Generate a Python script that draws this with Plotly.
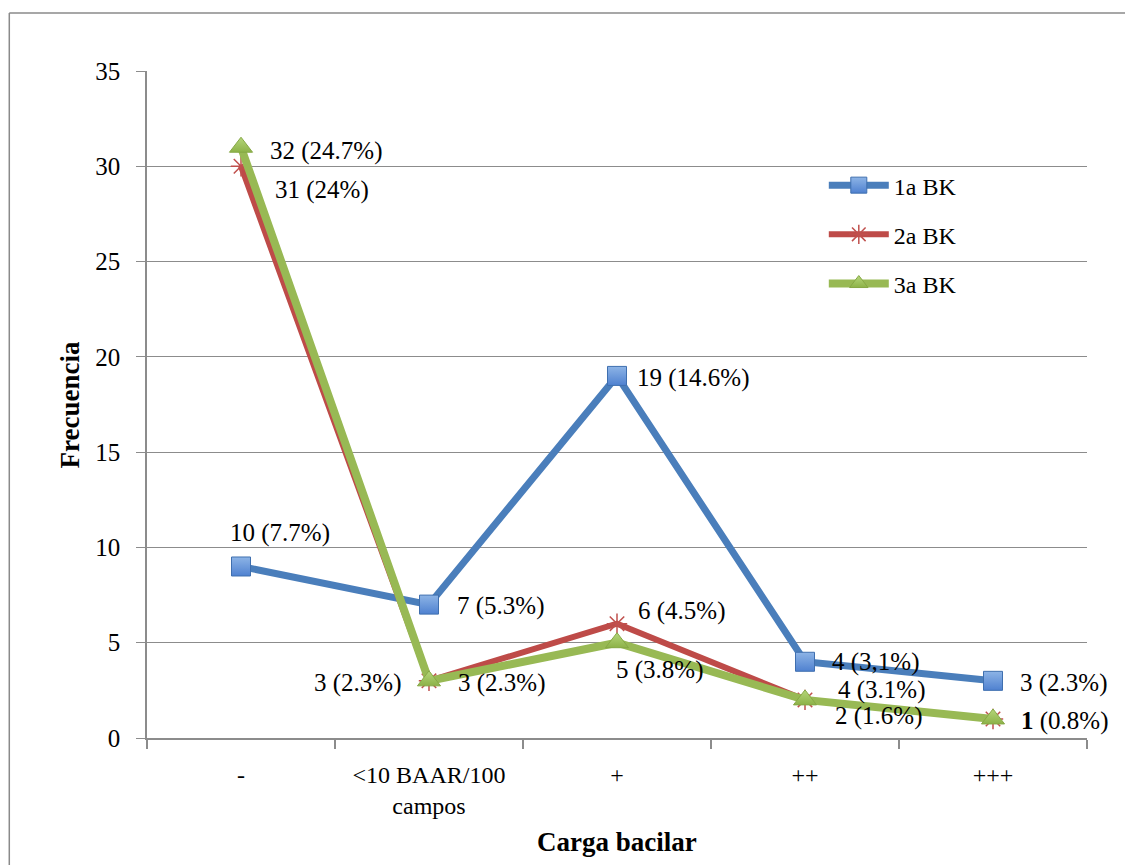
import plotly.graph_objects as go

categories = ["-", "<10 BAAR/100<br>campos", "+", "++", "+++"]
series_names = ["1a BK", "2a BK", "3a BK"]
bk1 = [9, 7, 19, 4, 3]
bk2 = [30, 3, 6, 2, 1]
bk3 = [31, 3, 5, 2, 1]
labels1 = ["10 (7.7%)", "7 (5.3%)", "19 (14.6%)", "4 (3,1%)", "3 (2.3%)"]
labels2 = ["31 (24%)", "3 (2.3%)", "6 (4.5%)", "4 (3.1%)", ""]
labels3 = ["32 (24.7%)", "3 (2.3%)", "5 (3.8%)", "2 (1.6%)", "<b>1</b> (0.8%)"]
y_ticks = [0, 5, 10, 15, 20, 25, 30, 35]

FONT = "Liberation Serif, Times New Roman, serif"
GRID = "#8c8c8c"

fig = go.Figure()

fig.add_trace(go.Scatter(
    x=categories, y=bk1, name=series_names[0], mode="lines+markers",
    legendgroup="a",
    line=dict(color="#4A7EBB", width=7),
    marker=dict(symbol="square", size=19, color="#8DB4E6",
                gradient=dict(type="vertical", color="#4F81D0"),
                line=dict(color="#3F6FAF", width=1)),
))
fig.add_trace(go.Scatter(
    x=categories, y=bk2, name=series_names[1], mode="lines+markers",
    legendgroup="b",
    line=dict(color="#BE4B48", width=6),
    marker=dict(symbol="asterisk-open", size=17, color="#C0504D",
                line=dict(color="#C0504D", width=1.5)),
))
fig.add_trace(go.Scatter(
    x=categories, y=bk3, name=series_names[2], mode="lines+markers",
    legendgroup="c",
    line=dict(color="#98B954", width=8),
    marker=dict(symbol="triangle-up", size=20, color="#B5D67A",
                gradient=dict(type="vertical", color="#8DB248"),
                line=dict(color="#86A845", width=1)),
))

# label placement styles: (xanchor, xshift, yshift)
style1 = [("center", 39, 33), ("left", 26, -1), ("left", 18, -2), ("left", 25, 0), ("left", 25, -2)]
style2 = [("left", 32, -24), ("right", -26, -2), ("left", 19, 13), ("left", 31, 10), ("left", 25, 0)]
style3 = [("left", 27, -4), ("left", 27, -2), ("center", 42, -27), ("left", 28, -16), ("left", 26, -2)]

annotations = []
for vals, labs, sty in ((bk1, labels1, style1), (bk2, labels2, style2), (bk3, labels3, style3)):
    for c, v, t, (xa, xs, ys) in zip(categories, vals, labs, sty):
        if not t:
            continue
        annotations.append(dict(
            x=c, y=v, xref="x", yref="y", text=t, showarrow=False,
            xanchor=xa, yanchor="middle", xshift=xs, yshift=ys,
            font=dict(family=FONT, size=25, color="#000000"),
        ))

annotations.append(dict(
    x=0.5, y=-0.156, xref="paper", yref="paper", text="<b>Carga bacilar</b>",
    showarrow=False, xanchor="center", yanchor="middle",
    font=dict(family=FONT, size=27, color="#000000"),
))
annotations.append(dict(
    x=-0.082, y=0.5, xref="paper", yref="paper", text="<b>Frecuencia</b>",
    showarrow=False, xanchor="center", yanchor="middle", textangle=-90,
    font=dict(family=FONT, size=27, color="#000000"),
))

shapes = [
    dict(type="line", xref="paper", yref="paper", x0=-0.1465, x1=-0.1465, y0=-0.3, y1=1.087,
         line=dict(color="#8a8a8a", width=1.5)),
    dict(type="line", xref="paper", yref="paper", x0=-0.1465, x1=1.1, y0=1.087, y1=1.087,
         line=dict(color="#8a8a8a", width=1.5)),
]

fig.update_layout(
    width=1125, height=857,
    margin=dict(l=139, r=46, t=63, b=127),
    paper_bgcolor="white", plot_bgcolor="white",
    font=dict(family=FONT, color="#000000"),
    annotations=annotations,
    shapes=shapes,
    showlegend=True,
    legend=dict(x=0.72, y=0.862, xanchor="left", yanchor="top",
                font=dict(family=FONT, size=24, color="#000000"),
                bgcolor="rgba(0,0,0,0)", tracegroupgap=15, itemwidth=60),
)

fig.update_xaxes(
    type="category", range=[-0.5, 4.5], showgrid=False,
    showline=True, linecolor=GRID, linewidth=1.5,
    ticks="outside", tickson="boundaries", ticklen=9, tickcolor=GRID, tickwidth=1.5,
    tickfont=dict(family=FONT, size=24, color="#000000"),
    ticklabelstandoff=14,
    fixedrange=True,
)
fig.update_yaxes(
    range=[0, 35], tickvals=y_ticks, showgrid=True, gridcolor=GRID, gridwidth=1,
    showline=True, linecolor=GRID, linewidth=1.5,
    ticks="outside", ticklen=9, tickcolor=GRID, tickwidth=1,
    tickfont=dict(family=FONT, size=25, color="#000000"),
    ticklabelstandoff=11, zeroline=False,
    fixedrange=True,
)

fig.write_html("out.html")
